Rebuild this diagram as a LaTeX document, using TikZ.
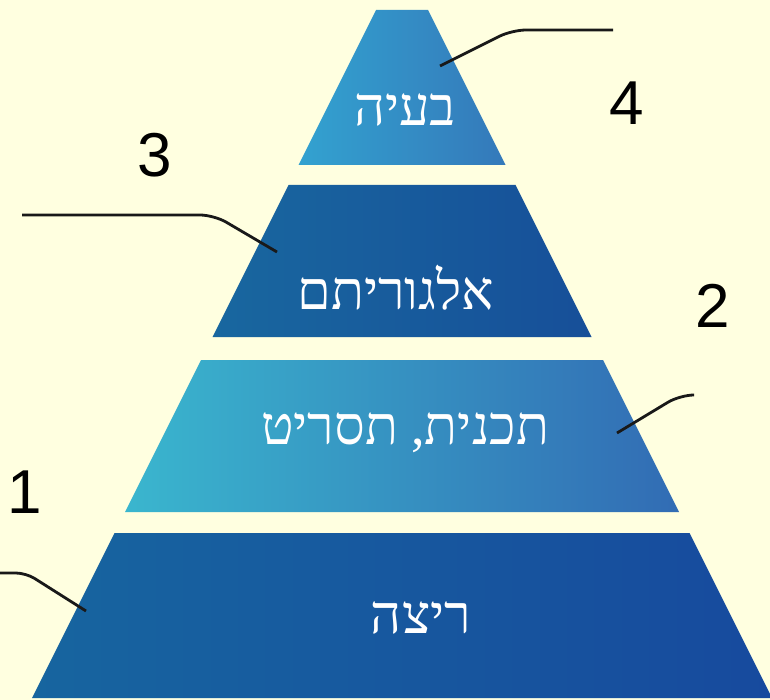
\documentclass[tikz,border=0pt]{standalone}
\usepackage{fontspec}
\setmainfont{Liberation Sans}
\newfontfamily\hebfont[Script=Hebrew]{Liberation Serif}
\TeXXeTstate=1
\definecolor{paper}{HTML}{FFFFE0}
\definecolor{topL}{HTML}{33A2D0}   \definecolor{topR}{HTML}{3479BA}
\definecolor{algL}{HTML}{18679F}   \definecolor{algR}{HTML}{174F99}
\definecolor{progL}{HTML}{3AB6CE}  \definecolor{progR}{HTML}{326CB4}
\definecolor{runL}{HTML}{17659F}   \definecolor{runR}{HTML}{174A9E}

\begin{document}
\begin{tikzpicture}[x=1pt, y=-1pt,
    level/.style={text=white, font=\hebfont\fontsize{54}{54}\selectfont},
    num/.style={font=\fontsize{62}{62}\selectfont},
    leader/.style={line width=2.8pt, black!90, rounded corners=14pt}]
    \useasboundingbox[fill=paper] (0,0) rectangle (770,700);

    % Pyramid levels (left edge x = 381 - y/2, right edge x = 423 + y/2)
    \foreach \ya/\yb/\ca/\cb in {10/165/topL/topR, 185/337/algL/algR,
                                 360/512/progL/progR, 533/698/runL/runR}
      \shade[left color=\ca, right color=\cb]
        ({381-0.5*\ya},\ya) -- ({423+0.5*\ya},\ya) -- ({423+0.5*\yb},\yb) -- ({381-0.5*\yb},\yb) -- cycle;

    % Level names
    \node[level] (problem) at (405,110) {\beginR בעיה\endR};
    \node[level] (algo) at (396,288) {\beginR אלגוריתם\endR};
    \node[level] (prog) at (405,433) {\beginR תכנית, תסריט\endR};
    \node[level] (run) at (421,618) {\beginR ריצה\endR};

    % Numbers
    \node[num] (n4) at (627,103) {4};
    \node[num] (n3) at (155,155) {3};
    \node[num] (n2) at (713,306) {2};
    \node[num] (n1) at (25,492) {1};

    % Leader lines
    \coordinate (a4) at (440,66);  \coordinate (b4) at (613,30);
    \coordinate (a3) at (277,252); \coordinate (b3) at (22,215);
    \coordinate (a2) at (617,433); \coordinate (b2) at (692,395);
    \coordinate (a1) at (86,611);  \coordinate (b1) at (0,573);
    \draw[leader] (a4) -- (512,30) -- (b4);
    \draw[leader] (b3) -- (214,215) -- (a3);
    \draw[leader] (a2) -- (680,395) -- (b2);
    \draw[leader, rounded corners=10pt] (b1) -- (26,573) -- (a1);
\end{tikzpicture}
\end{document}
